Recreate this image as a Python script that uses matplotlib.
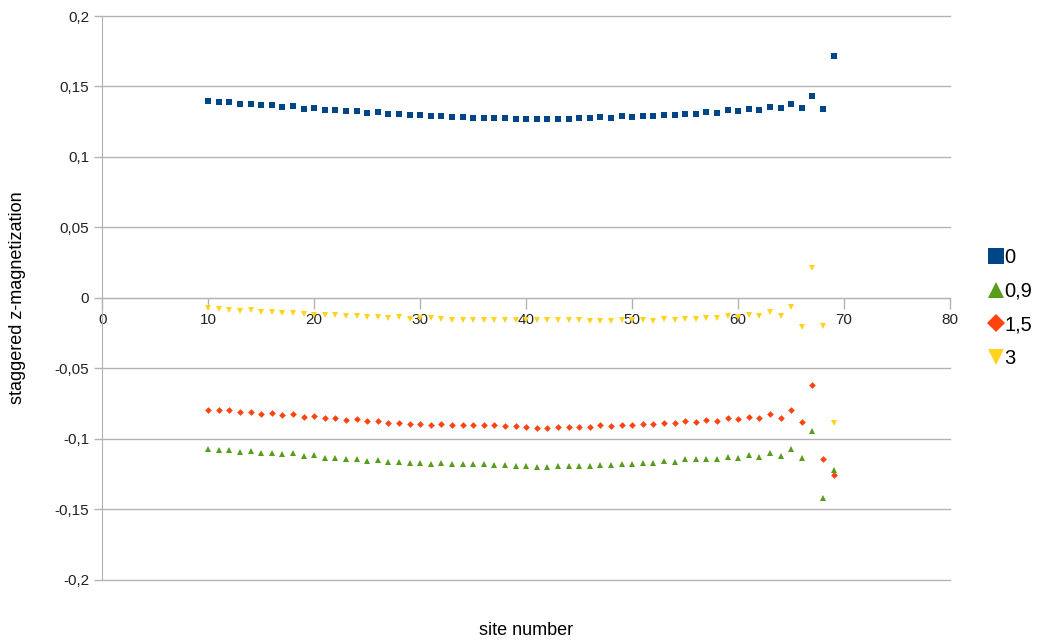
import numpy as np
import matplotlib.pyplot as plt
from matplotlib.ticker import FuncFormatter
from matplotlib.lines import Line2D

plt.rcParams['font.family'] = ['Liberation Sans', 'DejaVu Sans']

# site numbers 10..69
sites = list(range(10, 70))

# staggered z-magnetization for each parameter value
mag_0 = [0.1398, 0.1391, 0.1391, 0.1379, 0.1379, 0.1367, 0.1367, 0.1355, 0.1360, 0.1343,
         0.1348, 0.1336, 0.1336, 0.1324, 0.1326, 0.1314, 0.1319, 0.1305, 0.1305, 0.1295,
         0.1295, 0.1290, 0.1290, 0.1283, 0.1283, 0.1279, 0.1279, 0.1276, 0.1276, 0.1271,
         0.1271, 0.1271, 0.1271, 0.1271, 0.1271, 0.1276, 0.1276, 0.1281, 0.1279, 0.1288,
         0.1283, 0.1290, 0.1288, 0.1298, 0.1295, 0.1305, 0.1302, 0.1319, 0.1314, 0.1331,
         0.1326, 0.1340, 0.1336, 0.1357, 0.1345, 0.1379, 0.1350, 0.1431, 0.1338, 0.1717]

mag_09 = [-0.1071, -0.1078, -0.1078, -0.1090, -0.1085, -0.1097, -0.1097, -0.1107, -0.1102, -0.1119,
          -0.1114, -0.1133, -0.1138, -0.1145, -0.1142, -0.1154, -0.1149, -0.1164, -0.1162, -0.1173,
          -0.1173, -0.1178, -0.1173, -0.1178, -0.1178, -0.1180, -0.1180, -0.1185, -0.1187, -0.1192,
          -0.1195, -0.1197, -0.1197, -0.1192, -0.1192, -0.1192, -0.1192, -0.1185, -0.1185, -0.1178,
          -0.1180, -0.1173, -0.1173, -0.1157, -0.1162, -0.1145, -0.1145, -0.1140, -0.1145, -0.1130,
          -0.1133, -0.1116, -0.1126, -0.1102, -0.1121, -0.1073, -0.1138, -0.0941, -0.1418, -0.1221]

mag_15 = [-0.0794, -0.0798, -0.0798, -0.0808, -0.0806, -0.0820, -0.0817, -0.0831, -0.0827, -0.0843,
          -0.0839, -0.0853, -0.0853, -0.0865, -0.0862, -0.0874, -0.0870, -0.0884, -0.0884, -0.0896,
          -0.0896, -0.0898, -0.0896, -0.0900, -0.0898, -0.0898, -0.0898, -0.0903, -0.0907, -0.0907,
          -0.0914, -0.0920, -0.0920, -0.0915, -0.0915, -0.0917, -0.0915, -0.0905, -0.0907, -0.0903,
          -0.0903, -0.0896, -0.0896, -0.0884, -0.0886, -0.0874, -0.0877, -0.0865, -0.0870, -0.0855,
          -0.0862, -0.0843, -0.0853, -0.0824, -0.0851, -0.0798, -0.0877, -0.0616, -0.1142, -0.1253]

mag_3 = [-0.0074, -0.0079, -0.0083, -0.0090, -0.0083, -0.0098, -0.0098, -0.0107, -0.0107, -0.0114,
         -0.0119, -0.0121, -0.0121, -0.0126, -0.0126, -0.0138, -0.0138, -0.0145, -0.0138, -0.0150,
         -0.0145, -0.0145, -0.0150, -0.0157, -0.0157, -0.0157, -0.0157, -0.0157, -0.0157, -0.0157,
         -0.0155, -0.0160, -0.0160, -0.0160, -0.0160, -0.0160, -0.0165, -0.0165, -0.0165, -0.0160,
         -0.0155, -0.0160, -0.0165, -0.0153, -0.0155, -0.0148, -0.0148, -0.0141, -0.0143, -0.0131,
         -0.0136, -0.0124, -0.0131, -0.0100, -0.0131, -0.0064, -0.0207, 0.0209, -0.0196, -0.0888]

series = [
    ('0', mag_0, 's', '#004586', 4.0),
    ('0,9', mag_09, '^', '#579d1c', 4.2),
    ('1,5', mag_15, 'D', '#ff420e', 3.4),
    ('3', mag_3, 'v', '#ffd320', 4.2),
]

fig = plt.figure(figsize=(10.43, 6.4), dpi=100)
ax = fig.add_axes([0.098, 0.094, 0.813, 0.881])

for name, vals, mk, col, ms in series:
    ax.plot(sites, vals, linestyle='none', marker=mk, color=col,
            markersize=ms, markeredgewidth=0, label=name)

ax.set_xlim(0, 80)
ax.set_ylim(-0.2, 0.2)
ax.set_xticks(range(0, 81, 10))
ax.set_yticks(np.arange(-0.2, 0.2001, 0.05))

def comma(v, p):
    v = round(v, 3)
    if v == 0:
        return '0'
    return ('%g' % v).replace('.', ',')

ax.xaxis.set_major_formatter(FuncFormatter(comma))
ax.yaxis.set_major_formatter(FuncFormatter(comma))

ax.grid(axis='y', color='#b3b3b3', linewidth=1)
for gl in ax.get_ygridlines():
    gl.set_clip_on(False)
ax.set_axisbelow(True)
for s in ['top', 'right']:
    ax.spines[s].set_visible(False)
ax.spines['bottom'].set_position(('data', 0))
ax.spines['bottom'].set_color('#b3b3b3')
ax.spines['left'].set_color('#b3b3b3')
ax.tick_params(axis='both', color='#b3b3b3', length=6, width=1,
               labelsize=11, labelcolor='#222222')
ax.tick_params(axis='x', length=8, pad=3)

ax.set_xlabel('site number', fontsize=13)
ax.xaxis.set_label_coords(0.5, -0.075)
ax.set_ylabel('staggered z-magnetization', fontsize=13)
ax.yaxis.set_label_coords(-0.09, 0.5)

handles = [Line2D([], [], linestyle='none', marker=mk, color=col,
                  markersize=11 if mk != 'D' else 9, markeredgewidth=0)
           for _, _, mk, col, _ in series]
ax.legend(handles, [s[0] for s in series], loc='center left',
          bbox_to_anchor=(1.025, 0.482), frameon=False, fontsize=14.5,
          handlelength=0.6, handletextpad=0.15, labelspacing=0.72)

fig.savefig('out.png', dpi=100)
